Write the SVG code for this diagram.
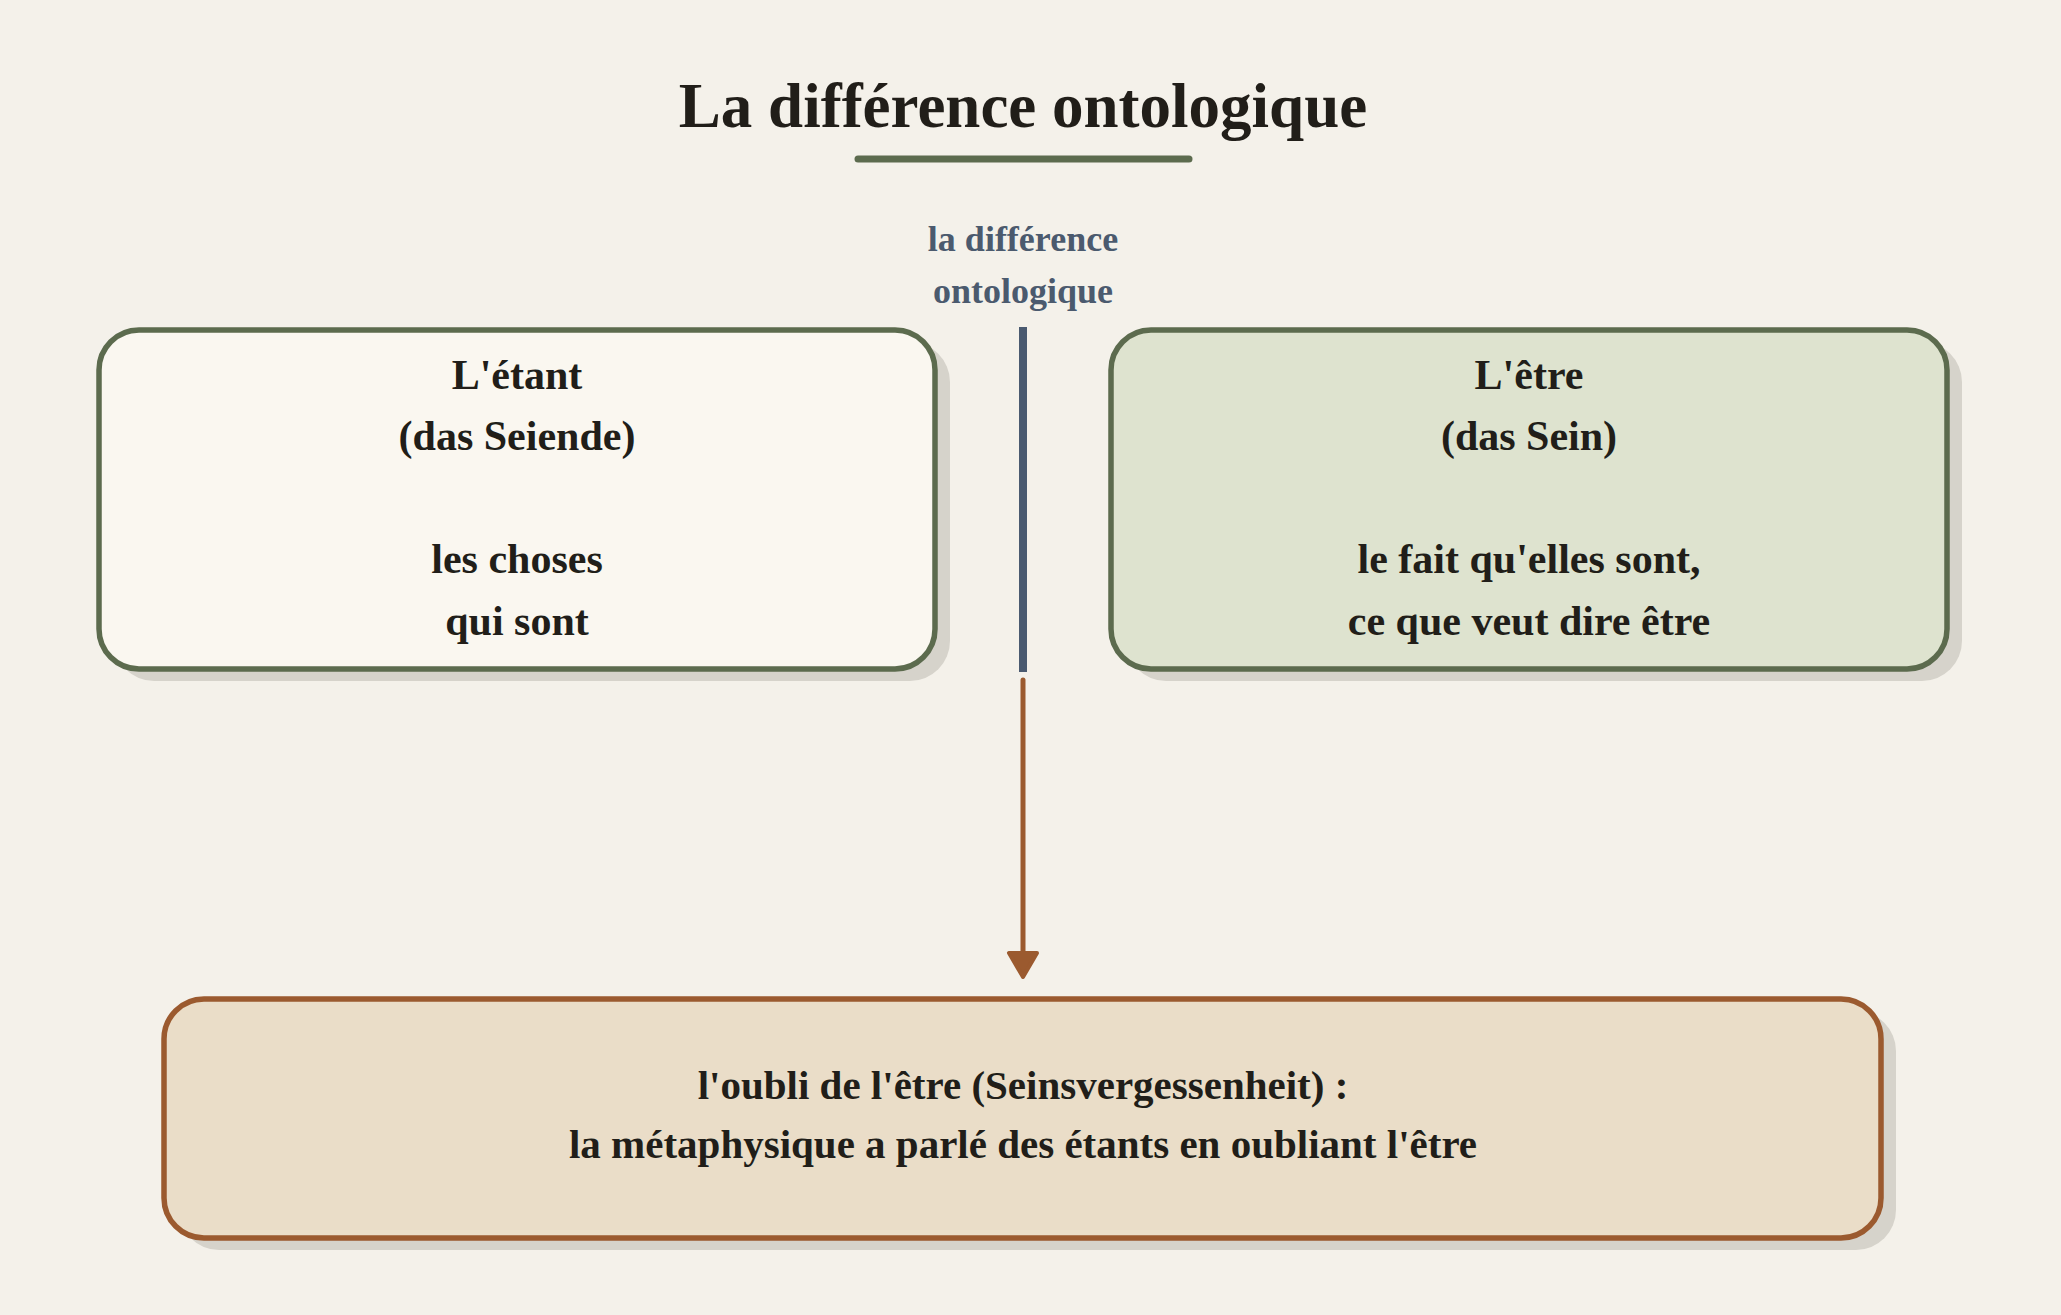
<svg xmlns="http://www.w3.org/2000/svg" width="2061" height="1315" viewBox="0 0 2061 1315">
<style>
.t{font-family:"Liberation Serif","Times New Roman",serif;font-weight:bold;text-anchor:middle;fill:#211e19}
.box{font-size:42px}
.lbl{font-size:36px;fill:#4b5a6e}
.shadow{fill:#d6d3cb}
</style>
<rect width="2061" height="1315" fill="#f4f1ea"/>
<g id="title">
<text class="t" x="1023" y="127" font-size="63">La différence ontologique</text>
<line x1="858" y1="159" x2="1189" y2="159" stroke="#5c6b4e" stroke-width="7" stroke-linecap="round"/>
</g>
<g id="label">
<text class="t lbl" x="1023" y="251">la différence</text>
<text class="t lbl" x="1023" y="303">ontologique</text>
</g>
<g id="connectors">
<line x1="1023" y1="327" x2="1023" y2="672" stroke="#4a5a70" stroke-width="8"/>
<line x1="1023" y1="680" x2="1023" y2="956" stroke="#9b5a2f" stroke-width="5" stroke-linecap="round"/>
<path d="M1009,953 L1037,953 L1023,977 Z" fill="#9b5a2f" stroke="#9b5a2f" stroke-width="4" stroke-linejoin="round"/>
</g>
<g id="etant">
<rect class="shadow" x="114" y="342" width="836" height="339" rx="40"/>
<rect x="99" y="330" width="836" height="339" rx="40" fill="#faf7f0" stroke="#5c6b4e" stroke-width="5.5"/>
<text class="t box" x="517" y="389">L'étant</text>
<text class="t box" x="517" y="450">(das Seiende)</text>
<text class="t box" x="517" y="573">les choses</text>
<text class="t box" x="517" y="635">qui sont</text>
</g>
<g id="etre">
<rect class="shadow" x="1126" y="342" width="836" height="339" rx="40"/>
<rect x="1111" y="330" width="836" height="339" rx="40" fill="#dee3cf" stroke="#5c6b4e" stroke-width="5.5"/>
<text class="t box" x="1529" y="389">L'être</text>
<text class="t box" x="1529" y="450">(das Sein)</text>
<text class="t box" x="1529" y="573">le fait qu'elles sont,</text>
<text class="t box" x="1529" y="635">ce que veut dire être</text>
</g>
<g id="oubli">
<rect class="shadow" x="179" y="1011" width="1717" height="239" rx="40"/>
<rect x="164" y="999" width="1717" height="239" rx="40" fill="#eaddc8" stroke="#9b5a2f" stroke-width="5.5"/>
<text class="t" x="1023" y="1099" font-size="41">l'oubli de l'être (Seinsvergessenheit) :</text>
<text class="t" x="1023" y="1158" font-size="41">la métaphysique a parlé des étants en oubliant l'être</text>
</g>
</svg>
